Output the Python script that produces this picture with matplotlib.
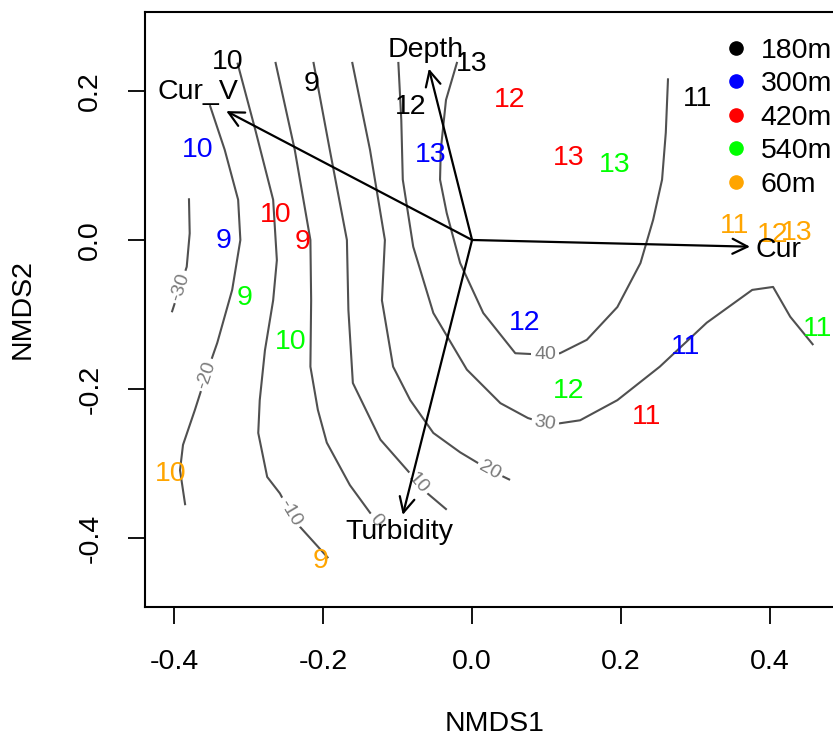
import numpy as np
import matplotlib
matplotlib.use("Agg")
import matplotlib.pyplot as plt
from matplotlib.lines import Line2D

plt.rcParams['font.family'] = ['Liberation Sans', 'DejaVu Sans']

# ---------------- data ----------------
groups = ['180m', '300m', '420m', '540m', '60m']
group_colors = ['black', '#0000FF', '#FF0000', '#00FF00', '#FFA500']

# site labels (sampling month) and NMDS scores, per depth group
lab_180 = ['10', '9', '12', '13', '11']
x_180 = [-0.328, -0.215, -0.083, 0.000, 0.303]
y_180 = [0.239, 0.209, 0.179, 0.236, 0.189]

lab_300 = ['10', '13', '9', '12', '11']
x_300 = [-0.368, -0.056, -0.334, 0.070, 0.287]
y_300 = [0.121, 0.114, -0.001, -0.111, -0.144]

lab_420 = ['12', '13', '10', '9', '11']
x_420 = [0.050, 0.130, -0.264, -0.228, 0.234]
y_420 = [0.188, 0.110, 0.034, -0.003, -0.238]

lab_540 = ['13', '9', '10', '12', '11']
x_540 = [0.191, -0.305, -0.244, 0.130, 0.464]
y_540 = [0.101, -0.078, -0.137, -0.203, -0.119]

lab_60 = ['11', '12', '13', '10', '9']
x_60 = [0.352, 0.403, 0.436, -0.405, -0.204]
y_60 = [0.019, 0.007, 0.009, -0.314, -0.431]

# environmental vectors (envfit)
env_names = ['Cur_V', 'Depth', 'Cur', 'Turbidity']
env_x = [-0.330, -0.058, 0.373, -0.093]
env_y = [0.173, 0.230, -0.009, -0.369]
env_lab_x = [-0.368, -0.062, 0.411, -0.098]
env_lab_y = [0.199, 0.255, -0.013, -0.392]

# ordisurf contour lines (level, x, y, label index)
cont_levels = ['-30', '-20', '-10', '0', '10', '20', '30', '40']
cont_m30_x = [-0.380, -0.379, -0.383, -0.392, -0.403]
cont_m30_y = [0.056, 0.009, -0.036, -0.063, -0.097]
cont_m20_x = [-0.352, -0.332, -0.314, -0.311, -0.322, -0.342, -0.357, -0.372, -0.388, -0.392, -0.385]
cont_m20_y = [0.181, 0.121, 0.054, 0.000, -0.067, -0.138, -0.181, -0.228, -0.275, -0.309, -0.356]
cont_m10_x = [-0.315, -0.291, -0.267, -0.262, -0.267, -0.278, -0.285, -0.287, -0.275, -0.258, -0.244, -0.231, -0.193]
cont_m10_y = [0.238, 0.148, 0.054, -0.027, -0.081, -0.148, -0.215, -0.259, -0.318, -0.340, -0.366, -0.385, -0.427]
cont_0_x = [-0.264, -0.238, -0.217, -0.216, -0.217, -0.207, -0.195, -0.164, -0.137, -0.129]
cont_0_y = [0.239, 0.121, 0.000, -0.081, -0.170, -0.228, -0.272, -0.329, -0.366, -0.376]
cont_10_x = [-0.213, -0.191, -0.168, -0.166, -0.160, -0.123, -0.087, -0.072, -0.060, -0.034]
cont_10_y = [0.239, 0.121, 0.000, -0.094, -0.192, -0.268, -0.309, -0.326, -0.340, -0.362]
cont_20_x = [-0.161, -0.137, -0.117, -0.121, -0.106, -0.083, -0.052, -0.016, 0.024, 0.051]
cont_20_y = [0.239, 0.121, 0.000, -0.081, -0.170, -0.215, -0.259, -0.285, -0.309, -0.322]
cont_30_x = [-0.099, -0.095, -0.093, -0.079, -0.052, -0.007, 0.038, 0.075, 0.098, 0.118, 0.145,
             0.195, 0.252, 0.315, 0.376, 0.404, 0.427, 0.458]
cont_30_y = [0.239, 0.161, 0.081, -0.009, -0.098, -0.174, -0.219, -0.239, -0.246, -0.246, -0.242,
             -0.215, -0.170, -0.111, -0.067, -0.063, -0.103, -0.141]
cont_40_x = [-0.020, -0.035, -0.042, -0.043, -0.034, -0.016, 0.015, 0.058, 0.098, 0.118, 0.154,
             0.195, 0.226, 0.243, 0.255, 0.260, 0.263]
cont_40_y = [0.239, 0.188, 0.121, 0.081, 0.036, -0.031, -0.098, -0.152, -0.154, -0.152, -0.134,
             -0.090, -0.031, 0.027, 0.081, 0.144, 0.217]
cont_label_idx = [3, 6, 10, 9, 7, 8, 8, 8]

xticks = [-0.4, -0.2, 0.0, 0.2, 0.4]
yticks = [-0.4, -0.2, 0.0, 0.2]

# ---------------- figure ----------------
W, H = 833, 745
fig = plt.figure(figsize=(W / 100, H / 100), dpi=100)
ax = fig.add_axes([145 / W, 1 - 607 / H, (844.6 - 145) / W, (607 - 12) / H])
ax.set_xlim(-0.439, 0.5)
ax.set_ylim(-0.4926, 0.306)

FS = 20.5

# contours
cont_x = [cont_m30_x, cont_m20_x, cont_m10_x, cont_0_x, cont_10_x, cont_20_x, cont_30_x, cont_40_x]
cont_y = [cont_m30_y, cont_m20_y, cont_m10_y, cont_0_y, cont_10_y, cont_20_y, cont_30_y, cont_40_y]
fig.canvas.draw()
for lev, cx, cy, k in zip(cont_levels, cont_x, cont_y, cont_label_idx):
    ax.plot(cx, cy, color='#505050', lw=1.5, zorder=2, solid_capstyle='butt',
            solid_joinstyle='round')
    i0 = max(k - 1, 0)
    i1 = min(k + 1, len(cx) - 1)
    p0 = ax.transData.transform((cx[i0], cy[i0]))
    p1 = ax.transData.transform((cx[i1], cy[i1]))
    ang = np.degrees(np.arctan2(p1[1] - p0[1], p1[0] - p0[0]))
    if ang > 90:
        ang -= 180
    if ang < -90:
        ang += 180
    ax.text(cx[k], cy[k], lev, fontsize=14, color='#7a7a7a', rotation=ang,
            rotation_mode='anchor', ha='center', va='center', zorder=3,
            bbox=dict(boxstyle='square,pad=0.15', fc='white', ec='none'))

# site labels
all_sets = [(lab_180, x_180, y_180), (lab_300, x_300, y_300), (lab_420, x_420, y_420),
            (lab_540, x_540, y_540), (lab_60, x_60, y_60)]
for (labs, xs, ys), col in zip(all_sets, group_colors):
    for t, xv, yv in zip(labs, xs, ys):
        ax.text(xv, yv, t, color=col, fontsize=FS, ha='center', va='center', zorder=5)

# env arrows
for name, ex, ey, lx, ly in zip(env_names, env_x, env_y, env_lab_x, env_lab_y):
    ax.annotate('', xy=(ex, ey), xytext=(0, 0),
                arrowprops=dict(arrowstyle='->,head_length=0.6,head_width=0.3',
                                lw=1.6, color='black', shrinkA=0, shrinkB=0,
                                mutation_scale=18), zorder=4)
    ax.text(lx, ly, name, fontsize=FS, ha='center', va='center', color='black', zorder=5)

# axes styling
ax.set_xticks(xticks)
ax.set_xticklabels(['%.1f' % v for v in xticks])
ax.set_yticks(yticks)
ax.set_yticklabels(['%.1f' % v for v in yticks], rotation=90, va='center')
ax.tick_params(axis='both', direction='out', length=12, width=1.3, labelsize=FS, pad=18,
               colors='black')
for s in ax.spines.values():
    s.set_linewidth(1.5)
ax.set_xlabel('NMDS1', fontsize=FS, labelpad=26)
ax.set_ylabel('NMDS2', fontsize=FS, labelpad=30)

# legend
handles = [Line2D([], [], marker='o', ls='', color=c, markersize=9.5) for c in group_colors]
ax.legend(handles, groups, loc='upper left', bbox_to_anchor=(725 / W, 1 - 38 / H),
          bbox_transform=fig.transFigure, frameon=False, fontsize=FS, borderpad=0,
          borderaxespad=0, handlelength=0.8, handletextpad=0.45, labelspacing=0.26)

fig.savefig('out.png', dpi=100)
